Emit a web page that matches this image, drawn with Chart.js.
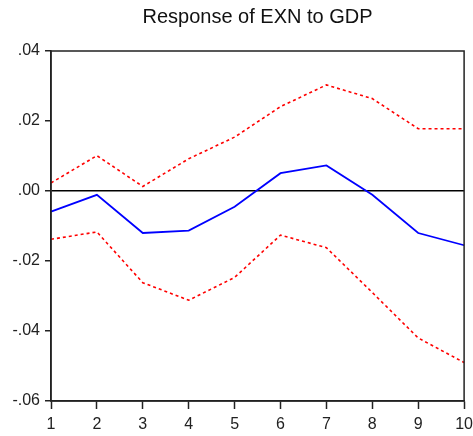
<!DOCTYPE html>
<html>
<head>
<meta charset="utf-8">
<script src="https://cdn.jsdelivr.net/npm/chart.js@4"></script>
<style>
  html, body { margin: 0; padding: 0; background: #fff; }
  canvas { display: block; }
</style>
</head>
<body>
<canvas id="c" width="473" height="436"></canvas>
<script>
const periods = ['1','2','3','4','5','6','7','8','9','10'];
const response = [-0.0059, -0.0011, -0.0120, -0.0113, -0.0045, 0.0051, 0.0073, -0.0011, -0.0120, -0.0155];
const upperBand = [0.0023, 0.0101, 0.0013, 0.0092, 0.0154, 0.0241, 0.0303, 0.0264, 0.0178, 0.0178];
const lowerBand = [-0.0138, -0.0117, -0.0262, -0.0312, -0.0247, -0.0126, -0.0162, -0.0290, -0.0420, -0.0490];
const titleText = 'Response of EXN to GDP';

const framePlugin = {
  id: 'frame',
  afterDatasetsDraw(chart) {
    const a = chart.chartArea;
    const ctx = chart.ctx;
    ctx.save();
    ctx.strokeStyle = '#222';
    ctx.lineWidth = 1.5;
    ctx.strokeRect(a.left, a.top, a.right - a.left, a.bottom - a.top);
    ctx.restore();
  }
};

function fmt(v) {
  let s = Number(v).toFixed(2);
  return s.replace('0.', '.');
}

new Chart(document.getElementById('c'), {
  type: 'line',
  data: {
    labels: periods,
    datasets: [
      { data: upperBand, borderColor: '#ff0000', borderWidth: 1.6, borderDash: [3, 3], pointRadius: 0, tension: 0, fill: false },
      { data: lowerBand, borderColor: '#ff0000', borderWidth: 1.6, borderDash: [3, 3], pointRadius: 0, tension: 0, fill: false },
      { data: response, borderColor: '#0000ff', borderWidth: 1.8, pointRadius: 0, tension: 0, fill: false }
    ]
  },
  options: {
    responsive: false,
    animation: false,
    layout: { padding: { left: 0, right: 7, top: 0, bottom: 0 } },
    plugins: {
      legend: { display: false },
      tooltip: { enabled: false },
      title: {
        display: true,
        text: titleText,
        fullSize: false,
        color: '#111',
        font: { family: 'Liberation Sans', size: 20, weight: 'normal' },
        padding: { top: 5, bottom: 22 }
      }
    },
    scales: {
      x: {
        offset: false,
        afterFit(s) { s.height = 35; },
        border: { display: true, color: '#222', width: 1.5 },
        grid: { drawOnChartArea: false, drawTicks: true, tickLength: 8, tickColor: '#222', tickWidth: 1.5 },
        ticks: { color: '#222', padding: 0, maxRotation: 0, autoSkip: false, font: { family: 'Liberation Sans', size: 16, lineHeight: 2.0 } }
      },
      y: {
        min: -0.06,
        max: 0.04,
        afterFit(s) { s.width = 51; },
        border: { display: true, color: '#222', width: 1.5 },
        grid: {
          drawOnChartArea: true,
          drawTicks: true,
          tickLength: 6,
          tickColor: '#222',
          tickWidth: 1.5,
          lineWidth: 1.5,
          color: (ctx) => (ctx.tick && Math.abs(ctx.tick.value) < 1e-9) ? '#000' : 'rgba(0,0,0,0)'
        },
        ticks: {
          stepSize: 0.02,
          color: '#222',
          padding: 5,
          font: { family: 'Liberation Sans', size: 16 },
          callback: (v) => fmt(v)
        }
      }
    }
  },
  plugins: [framePlugin]
});
</script>
</body>
</html>
